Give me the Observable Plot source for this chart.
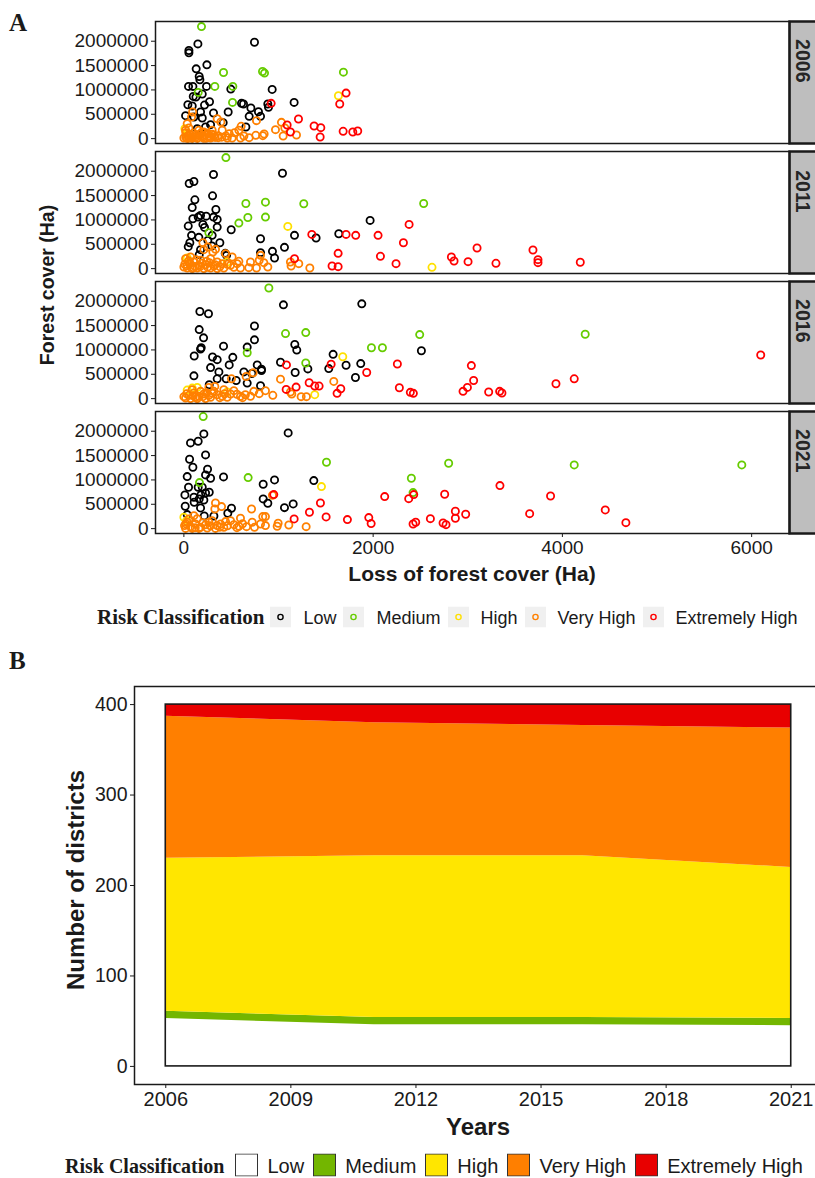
<!DOCTYPE html>
<html><head><meta charset="utf-8">
<script src="https://cdn.jsdelivr.net/npm/d3@7"></script>
<script src="https://cdn.jsdelivr.net/npm/@observablehq/plot@0.6"></script>
<style>
html,body{margin:0;padding:0;background:#fff;overflow:hidden;}
#page{position:relative;width:815px;height:1178px;overflow:hidden;font-family:"Liberation Sans",Arial,sans-serif;color:#1a1a1a;}
.abs{position:absolute;white-space:nowrap;line-height:1;}
.ctr{transform:translate(-50%,-50%);}
.serifb{font-family:"Liberation Serif","Times New Roman",serif;font-weight:bold;}
.legend{position:absolute;display:flex;align-items:center;white-space:nowrap;line-height:1;}
.legend .ttl{font-family:"Liberation Serif","Times New Roman",serif;font-weight:bold;}
#plotA,#plotB{position:absolute;left:0;width:830px;}
#plotA svg,#plotB svg{max-width:none !important;}
</style></head>
<body><div id="page">
<div id="plotA" style="top:0"></div>
<div id="plotB" style="top:668px"></div>
<div class="abs serifb" style="left:9px;top:10px;font-size:25px">A</div>
<div class="abs" style="left:48px;top:285px;font-size:19.5px;transform:translate(-50%,-50%) rotate(-90deg);font-weight:bold">Forest cover (Ha)</div>
<div class="abs ctr" style="left:472px;top:573px;font-size:21px;font-weight:bold">Loss of forest cover (Ha)</div>
<div id="legendA" class="legend" style="left:97px;top:617px;transform:translateY(-50%)"></div>
<div class="abs serifb" style="left:9px;top:648px;font-size:25px">B</div>
<div class="abs" style="left:76px;top:880px;font-size:24px;transform:translate(-50%,-50%) rotate(-90deg);font-weight:bold">Number of districts</div>
<div class="abs ctr" style="left:478px;top:1127px;font-size:24px;font-weight:bold">Years</div>
<div id="legendB" class="legend" style="left:65px;top:1165px;transform:translateY(-50%)"></div>
</div>
<script>
const FONT = '"Liberation Sans", Arial, sans-serif';
const classes = ["Low", "Medium", "High", "Very High", "Extremely High"];
const pointColors = ["#000000", "#66CC00", "#FFE000", "#FF8000", "#FF0000"];
const areaColors = ["#FFFFFF", "#73B600", "#FFE600", "#FF7F00", "#E80000"];
const years = [2006, 2011, 2016, 2021];

// Panel A: [loss of forest cover (Ha), forest cover (Ha)] per district
const low2006 = [[148,1945000],[53,1809000],[53,1761000],[746,1980000],[243,1515000],[130,1433000],[162,1276000],[169,1208000],[49,1072000],[95,1072000],[239,1072000],[496,1017000],[933,1010000],[99,867000],[127,853000],[194,915000],[271,758000],[42,696000],[88,669000],[218,689000],[176,546000],[313,526000],[468,546000],[609,724000],[630,710000],[708,628000],[788,553000],[887,710000],[894,642000],[1165,744000],[18,471000],[106,444000],[194,423000],[690,457000],[810,457000],[282,287000],[415,328000],[655,239000],[141,205000],[229,239000]];
const medium2006 = [[186,2300000],[419,1358000],[327,1072000],[517,1072000],[514,744000],[151,949000],[831,1379000],[852,1345000],[1686,1365000]];
const high2006 = [[1633,881000],[11,205000],[28,102000]];
const veryHigh2006 = [[92,546000],[81,444000],[352,410000],[391,341000],[767,369000],[1031,334000],[968,184000],[1067,218000],[1049,55000],[1190,75000],[848,96000],[834,61000],[760,68000],[690,20000],[605,253000],[581,171000],[535,123000],[479,102000],[444,55000],[363,20000],[35,307000],[53,218000],[18,171000],[158,171000],[211,137000],[299,171000],[70,68000],[123,34000],[194,55000],[264,34000],[0,14000],[35,5000],[88,5000],[141,5000],[211,8000],[282,14000],[317,68000],[405,171000],[510,14000],[598,14000],[634,55000],[458,14000],[20,30000],[45,60000],[60,90000],[75,20000],[100,110000],[130,80000],[150,20000],[170,95000],[190,130000],[230,75000],[250,110000],[280,40000],[300,90000],[330,25000],[20,120000],[50,10000],[100,40000],[200,30000],[240,10000],[360,60000],[400,30000]];
const extreme2006 = [[922,724000],[1714,935000],[1647,710000],[1211,403000],[1091,280000],[1126,137000],[1376,259000],[1447,225000],[1440,34000],[1683,150000],[1785,137000],[1837,157000]];

const low2011 = [[313,1932000],[56,1747000],[106,1788000],[1042,1959000],[116,1413000],[303,1495000],[88,1256000],[338,1215000],[95,1024000],[176,1092000],[151,1058000],[236,1078000],[313,1058000],[352,1010000],[46,874000],[201,908000],[218,846000],[352,853000],[500,799000],[81,683000],[299,683000],[158,642000],[253,580000],[63,532000],[380,532000],[46,451000],[176,389000],[296,464000],[162,287000],[437,314000],[810,614000],[936,355000],[958,218000],[1063,437000],[1169,683000],[1397,628000],[1637,717000],[1968,990000],[810,328000],[451,273000]];
const medium2011 = [[444,2280000],[655,1338000],[862,1365000],[1267,1331000],[676,1051000],[862,1058000],[581,935000],[264,737000],[2534,1338000]];
const high2011 = [[1098,867000],[2622,27000],[35,218000],[53,137000],[458,137000]];
const veryHigh2011 = [[201,532000],[253,444000],[334,396000],[211,389000],[306,341000],[440,307000],[510,239000],[581,150000],[704,137000],[810,273000],[796,171000],[845,123000],[887,34000],[1126,137000],[1214,102000],[1331,14000],[1133,55000],[686,20000],[767,14000],[598,14000],[528,27000],[18,205000],[70,239000],[106,137000],[176,171000],[229,82000],[282,205000],[352,137000],[405,102000],[493,68000],[563,102000],[35,14000],[88,3000],[141,14000],[211,3000],[282,14000],[352,3000],[422,14000],[0,34000],[158,68000],[317,55000],[30,60000],[60,100000],[120,40000],[190,110000],[250,30000],[270,120000],[330,80000],[380,40000],[460,90000],[130,180000],[50,160000],[240,150000],[10,90000],[100,20000],[170,40000]];
const extreme2011 = [[1352,703000],[1714,703000],[1816,683000],[2052,683000],[2380,908000],[2320,532000],[2077,253000],[2242,102000],[1630,314000],[1566,55000],[1630,41000],[1169,205000],[2827,239000],[2855,157000],[3003,143000],[3098,423000],[3298,109000],[3689,382000],[3742,184000],[3742,123000],[4189,130000]];

const low2016 = [[169,1790000],[260,1742000],[1052,1926000],[1880,1946000],[162,1417000],[208,1248000],[746,1492000],[746,1207000],[183,1044000],[176,1017000],[419,1078000],[669,1058000],[109,875000],[303,854000],[352,800000],[517,848000],[479,692000],[282,637000],[370,549000],[106,468000],[447,407000],[553,373000],[634,549000],[718,515000],[775,692000],[820,603000],[820,576000],[669,319000],[810,264000],[1021,746000],[1172,1112000],[1193,997000],[1176,536000],[1310,610000],[1531,617000],[1577,909000],[1714,685000],[1869,719000],[1813,434000],[2510,983000],[268,285000],[352,407000]];
const medium2016 = [[898,2271000],[1074,1336000],[1288,1356000],[1982,1044000],[2098,1044000],[2492,1315000],[1288,732000],[669,942000],[4241,1322000]];
const high2016 = [[1679,861000],[1383,81000],[35,176000],[141,231000],[88,217000],[458,136000]];
const veryHigh2016 = [[503,407000],[658,454000],[732,529000],[1021,400000],[1584,353000],[1126,136000],[1140,95000],[1239,41000],[1295,41000],[940,68000],[862,163000],[796,102000],[739,149000],[704,47000],[598,47000],[528,163000],[327,251000],[264,231000],[18,14000],[53,68000],[106,115000],[158,47000],[211,95000],[282,27000],[352,81000],[405,47000],[458,27000],[70,3000],[141,3000],[229,3000],[0,41000],[176,149000],[317,149000],[422,183000],[493,95000],[88,183000],[123,27000],[264,68000],[30,100000],[240,120000],[380,20000],[560,90000],[620,20000],[300,110000],[200,40000],[100,60000],[430,100000],[650,80000]];
const extreme2016 = [[1084,692000],[1556,705000],[1932,536000],[2256,712000],[3038,678000],[3062,373000],[1081,190000],[1186,237000],[1324,325000],[1383,258000],[1429,258000],[1619,108000],[1658,203000],[2277,224000],[2393,129000],[2425,108000],[2950,149000],[2996,231000],[3221,136000],[3337,149000],[3361,115000],[3932,305000],[4125,407000],[6096,895000]];

const low2021 = [[211,1945000],[151,1794000],[70,1760000],[1102,1966000],[229,1514000],[60,1425000],[95,1260000],[250,1219000],[229,1103000],[282,1034000],[35,1068000],[419,1062000],[49,849000],[151,849000],[194,849000],[229,733000],[268,747000],[11,692000],[106,644000],[162,610000],[211,589000],[180,692000],[109,541000],[14,459000],[176,425000],[215,260000],[317,260000],[503,418000],[464,315000],[838,911000],[958,1000000],[1373,986000],[838,610000],[887,521000],[1063,431000],[1155,507000],[35,288000]];
const medium2021 = [[204,2301000],[1507,1363000],[679,1048000],[2798,1342000],[2404,1034000],[2422,740000],[165,945000],[4125,1308000],[5896,1308000]];
const high2021 = [[1454,863000],[0,233000],[28,164000]];
const veryHigh2021 = [[334,527000],[398,452000],[327,404000],[715,404000],[936,685000],[834,247000],[862,247000],[598,212000],[493,164000],[440,144000],[722,130000],[810,96000],[862,62000],[996,110000],[986,48000],[1109,75000],[1292,41000],[581,48000],[662,41000],[746,27000],[7,62000],[35,130000],[70,41000],[123,96000],[176,27000],[229,82000],[299,164000],[352,62000],[422,27000],[528,82000],[18,5000],[88,5000],[158,5000],[246,14000],[334,5000],[53,199000],[106,267000],[264,130000],[387,96000],[141,205000],[20,100000],[200,120000],[280,60000],[460,60000],[560,20000],[620,100000],[120,20000],[380,30000]];
const extreme2021 = [[950,699000],[1443,527000],[1327,336000],[1503,240000],[1165,199000],[1728,185000],[1954,226000],[1979,103000],[2122,658000],[2376,616000],[2429,699000],[2422,96000],[2450,130000],[2605,205000],[2739,116000],[2770,82000],[2756,705000],[2869,356000],[2869,212000],[2978,295000],[3340,884000],[3654,308000],[3875,671000],[4453,384000],[4671,123000]];

const xTicksA = [0, 2000, 4000, 6000];
const yTicksA = [0, 500000, 1000000, 1500000, 2000000];

// Panel B: number of districts per class
const yearsB = [2006, 2011, 2016, 2021];
const lowB = [53, 46, 46, 45];
const mediumB = [8, 8, 8, 8];
const highB = [169, 179, 179, 167];
const veryHighB = [157, 147, 144, 154];
const extremeB = [13, 20, 23, 26];
const xTicksB = [2006, 2009, 2012, 2015, 2018, 2021];
const yTicksB = [0, 100, 200, 300, 400];

// ---- build tables ----
const byYear = {
  2006: [low2006, medium2006, high2006, veryHigh2006, extreme2006],
  2011: [low2011, medium2011, high2011, veryHigh2011, extreme2011],
  2016: [low2016, medium2016, high2016, veryHigh2016, extreme2016],
  2021: [low2021, medium2021, high2021, veryHigh2021, extreme2021]
};
const pointsA = [];
classes.forEach((cls, ci) => {
  years.forEach(yr => {
    byYear[yr][ci].forEach(([loss, cover]) => pointsA.push({year: yr, cls, loss, cover}));
  });
});

const seriesB = [lowB, mediumB, highB, veryHighB, extremeB];
const dataB = [];
classes.forEach((cls, ci) => yearsB.forEach((yr, i) => dataB.push({year: yr, cls, n: seriesB[ci][i]})));
const totals = yearsB.map((_, i) => d3.sum(seriesB, s => s[i]));
const extent = [{x1: d3.min(yearsB), x2: d3.max(yearsB), y1: 0, y2: d3.max(totals)}];

const W = 830;
const mlA = 155, mrA = 41;
const innerA = W - mlA - mrA;

const plotA = Plot.plot({
  width: W, height: 590,
  marginLeft: mlA, marginRight: mrA, marginTop: 21, marginBottom: 57,
  style: {fontFamily: FONT, fontSize: "18px", color: "#1a1a1a", background: "transparent", overflow: "visible", maxWidth: "none"},
  x: {domain: [-300, 6400]},
  y: {domain: [-100000, 2405000]},
  fy: {domain: years, paddingInner: 0.062, paddingOuter: 0, axis: null},
  color: {domain: classes, range: pointColors},
  marks: [
    Plot.frame({fill: "#bebebe", stroke: "#1a1a1a", strokeWidth: 2.5, insetLeft: innerA, insetRight: -32}),
    Plot.axisY({ticks: yTicksA, tickFormat: "d", tickSize: 4, tickPadding: 3, label: null, fontSize: 19}),
    Plot.axisX({ticks: xTicksA, tickFormat: "d", tickSize: 4, tickPadding: 3, label: null, fontSize: 19}),
    Plot.dot(pointsA, {x: "loss", y: "cover", fy: "year", stroke: "cls", fill: "none", r: 3.6, strokeWidth: 1.8}),
    Plot.frame({stroke: "#1a1a1a", strokeWidth: 1.5}),
    Plot.text(years, {fy: d => d, text: d => String(d), frameAnchor: "right", dx: 13, rotate: 90, fontWeight: "bold", fontSize: 19.5, fill: "#262626"})
  ]
});
plotA.style.maxWidth = "none";
document.getElementById("plotA").appendChild(plotA);

const plotB = Plot.plot({
  width: W, height: 480,
  marginLeft: 134, marginRight: 8, marginTop: 18, marginBottom: 64,
  style: {fontFamily: FONT, fontSize: "19px", color: "#1a1a1a", background: "transparent", overflow: "visible", maxWidth: "none"},
  x: {domain: [2005.25, 2021.75]},
  y: {domain: [-20, 420]},
  color: {domain: classes, range: areaColors},
  marks: [
    Plot.areaY(dataB, {x: "year", y: "n", fill: "cls", order: classes, curve: "linear"}),
    Plot.rect(extent, {x1: "x1", x2: "x2", y1: "y1", y2: "y2", fill: "none", stroke: "#1a1a1a", strokeWidth: 1.6}),
    Plot.frame({stroke: "#1a1a1a", strokeWidth: 1.5}),
    Plot.axisY({ticks: yTicksB, tickFormat: "d", tickSize: 4, tickPadding: 3, label: null, fontSize: 19.5}),
    Plot.axisX({ticks: xTicksB, tickFormat: "d", tickSize: 4, tickPadding: 3, label: null, fontSize: 20})
  ]
});
plotB.style.maxWidth = "none";
document.getElementById("plotB").appendChild(plotB);

// ---- legends ----
function legendA() {
  const el = document.getElementById("legendA");
  const t = document.createElement("span");
  t.className = "ttl"; t.textContent = "Risk Classification";
  t.style.fontSize = "21px"; t.style.marginRight = "6px";
  el.appendChild(t);
  classes.forEach((c, i) => {
    const key = document.createElementNS("http://www.w3.org/2000/svg", "svg");
    key.setAttribute("width", 21); key.setAttribute("height", 21);
    key.style.marginRight = "12px";
    key.innerHTML = `<rect width="21" height="21" fill="#F0F0F0"/><circle cx="10.5" cy="10.5" r="2.6" fill="none" stroke="${pointColors[i]}" stroke-width="1.4"/>`;
    el.appendChild(key);
    const l = document.createElement("span");
    l.textContent = c; l.style.fontSize = "18px"; l.style.marginRight = "7px";
    el.appendChild(l);
  });
}
function legendB() {
  const el = document.getElementById("legendB");
  const t = document.createElement("span");
  t.className = "ttl"; t.textContent = "Risk Classification";
  t.style.fontSize = "20px"; t.style.marginRight = "11px";
  el.appendChild(t);
  classes.forEach((c, i) => {
    const key = document.createElementNS("http://www.w3.org/2000/svg", "svg");
    key.setAttribute("width", 23); key.setAttribute("height", 23);
    key.style.marginRight = "9px";
    key.innerHTML = `<rect x="0.5" y="0.5" width="22" height="22" fill="${areaColors[i]}" stroke="#333" stroke-width="1"/>`;
    el.appendChild(key);
    const l = document.createElement("span");
    l.textContent = c; l.style.fontSize = "20px"; l.style.marginRight = i < classes.length - 1 ? "9px" : "0";
    el.appendChild(l);
  });
}
legendA(); legendB();
</script>
</body></html>
